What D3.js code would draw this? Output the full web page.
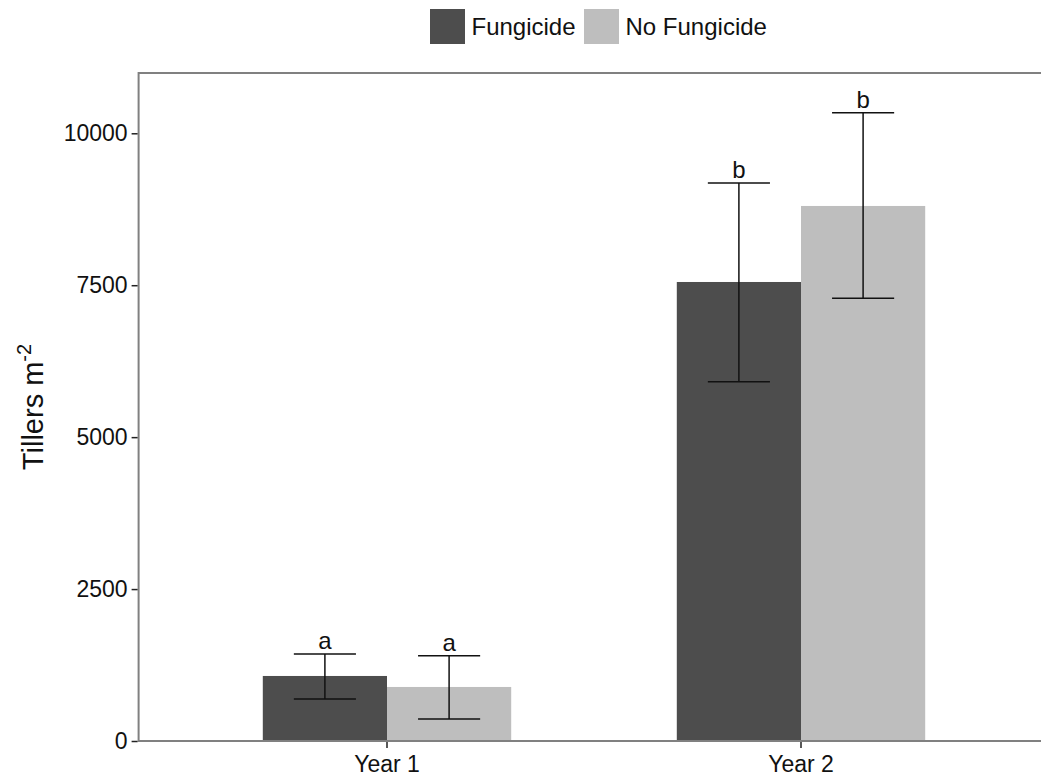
<!DOCTYPE html>
<html>
<head>
<meta charset="utf-8">
<script src="https://cdn.jsdelivr.net/npm/d3@7"></script>
<style>
  body { margin: 0; background: #fff; }
  svg { display: block; font-family: "Liberation Sans", Arial, Helvetica, sans-serif; }
</style>
</head>
<body>
<svg id="chart" width="1041" height="780"></svg>
<script>
// tillers per m2, mean with error bar ends
const years = ["Year 1", "Year 2"];
const treatments = ["Fungicide", "No Fungicide"];
const fungicideMean  = [1070, 7553];
const fungicideLow   = [691, 5912];
const fungicideHigh  = [1432, 9182];
const noFungMean     = [889, 8804];
const noFungLow      = [362, 7285];
const noFungHigh     = [1404, 10339];
const letters = { "Fungicide": ["a", "b"], "No Fungicide": ["a", "b"] };
const yTicks = [0, 2500, 5000, 7500, 10000];
const colors = { "Fungicide": "#4d4d4d", "No Fungicide": "#bebebe" };

const rows = [];
years.forEach((yr, i) => {
    rows.push({ year: yr, trt: "Fungicide", mean: fungicideMean[i], lo: fungicideLow[i], hi: fungicideHigh[i], letter: letters["Fungicide"][i] });
    rows.push({ year: yr, trt: "No Fungicide", mean: noFungMean[i], lo: noFungLow[i], hi: noFungHigh[i], letter: letters["No Fungicide"][i] });
});

const svg = d3.select("#chart");
const panel = { left: 138.6, right: 1049.4, top: 73, bottom: 741 };

// discrete x with ggplot-like 0.6 expansion
const x = d3.scaleBand().domain(years)
    .range([panel.left, panel.right])
    .paddingInner(0).paddingOuter(0.1);
const dodgeW = x.bandwidth() * 0.6;
const xIn = d3.scaleBand().domain(treatments).range([0, dodgeW]);

const y = d3.scaleLinear().domain([0, 10992]).range([panel.bottom, panel.top]);

const g = svg.append("g");

// bars
g.selectAll("rect.bar")
    .data(rows)
    .join("rect")
    .attr("class", "bar")
    .attr("x", d => x(d.year) + (x.bandwidth() - dodgeW) / 2 + xIn(d.trt))
    .attr("width", xIn.bandwidth())
    .attr("y", d => y(d.mean))
    .attr("height", d => y(0) - y(d.mean))
    .attr("fill", d => colors[d.trt]);

// error bars
const cx = d => x(d.year) + (x.bandwidth() - dodgeW) / 2 + xIn(d.trt) + xIn.bandwidth() / 2;
const capW = xIn.bandwidth() * 0.5;
const eb = g.selectAll("g.eb").data(rows).join("g").attr("class", "eb")
    .attr("stroke", "#111").attr("stroke-width", 1.5);
eb.append("line")
    .attr("x1", cx).attr("x2", cx)
    .attr("y1", d => y(d.lo)).attr("y2", d => y(d.hi));
eb.append("line")
    .attr("x1", d => cx(d) - capW / 2).attr("x2", d => cx(d) + capW / 2)
    .attr("y1", d => y(d.hi)).attr("y2", d => y(d.hi));
eb.append("line")
    .attr("x1", d => cx(d) - capW / 2).attr("x2", d => cx(d) + capW / 2)
    .attr("y1", d => y(d.lo)).attr("y2", d => y(d.lo));

// significance letters
g.selectAll("text.letter").data(rows).join("text")
    .attr("class", "letter")
    .attr("x", cx)
    .attr("y", d => y(d.hi) - 5)
    .attr("text-anchor", "middle")
    .attr("font-size", 24)
    .attr("fill", "#111")
    .text(d => d.letter);

// panel border: top + left, axes
const axisCol = "#808080";
g.append("line").attr("x1", panel.left).attr("x2", 1041)
    .attr("y1", panel.top).attr("y2", panel.top)
    .attr("stroke", axisCol).attr("stroke-width", 2);
g.append("line").attr("x1", panel.left).attr("x2", panel.left)
    .attr("y1", panel.top - 1).attr("y2", panel.bottom + 1)
    .attr("stroke", axisCol).attr("stroke-width", 2);
g.append("line").attr("x1", panel.left).attr("x2", 1041)
    .attr("y1", panel.bottom).attr("y2", panel.bottom)
    .attr("stroke", axisCol).attr("stroke-width", 2);

// y axis
const yAxis = g.append("g")
    .attr("transform", `translate(${panel.left - 1},0)`)
    .call(d3.axisLeft(y).tickValues(yTicks).tickSize(6).tickPadding(4).tickFormat(d3.format("d")));
yAxis.select(".domain").remove();
yAxis.selectAll(".tick line").attr("stroke", "#222").attr("stroke-width", 1.5);
yAxis.selectAll(".tick text").attr("font-size", 23).attr("fill", "#111")
    .attr("font-family", "Liberation Sans, Arial, sans-serif");

// x axis
const xAxis = g.append("g")
    .attr("transform", `translate(0,${panel.bottom + 1})`)
    .call(d3.axisBottom(x).tickSize(6).tickPadding(8));
xAxis.select(".domain").remove();
xAxis.selectAll(".tick line").attr("stroke", "#222").attr("stroke-width", 1.5);
xAxis.selectAll(".tick text").attr("font-size", 23).attr("fill", "#111")
    .attr("font-family", "Liberation Sans, Arial, sans-serif");

// y title
const yt = svg.append("text")
    .attr("transform", `translate(43,${(panel.top + panel.bottom) / 2}) rotate(-90)`)
    .attr("text-anchor", "middle")
    .attr("font-size", 29)
    .attr("fill", "#111");
yt.append("tspan").text("Tillers m");
yt.append("tspan").attr("font-size", 20).attr("dy", -12).text("-2");

// legend
const legendX = [430, 584];
const leg = svg.selectAll("g.legend").data(treatments).join("g")
    .attr("class", "legend")
    .attr("transform", (d, i) => `translate(${legendX[i]},9)`);
leg.append("rect").attr("width", 35).attr("height", 35).attr("fill", d => colors[d]);
leg.append("text").attr("x", 41.5).attr("y", 17.5).attr("dy", "0.36em")
    .attr("font-size", 24).attr("fill", "#111")
    .text(d => d);
</script>
</body>
</html>
